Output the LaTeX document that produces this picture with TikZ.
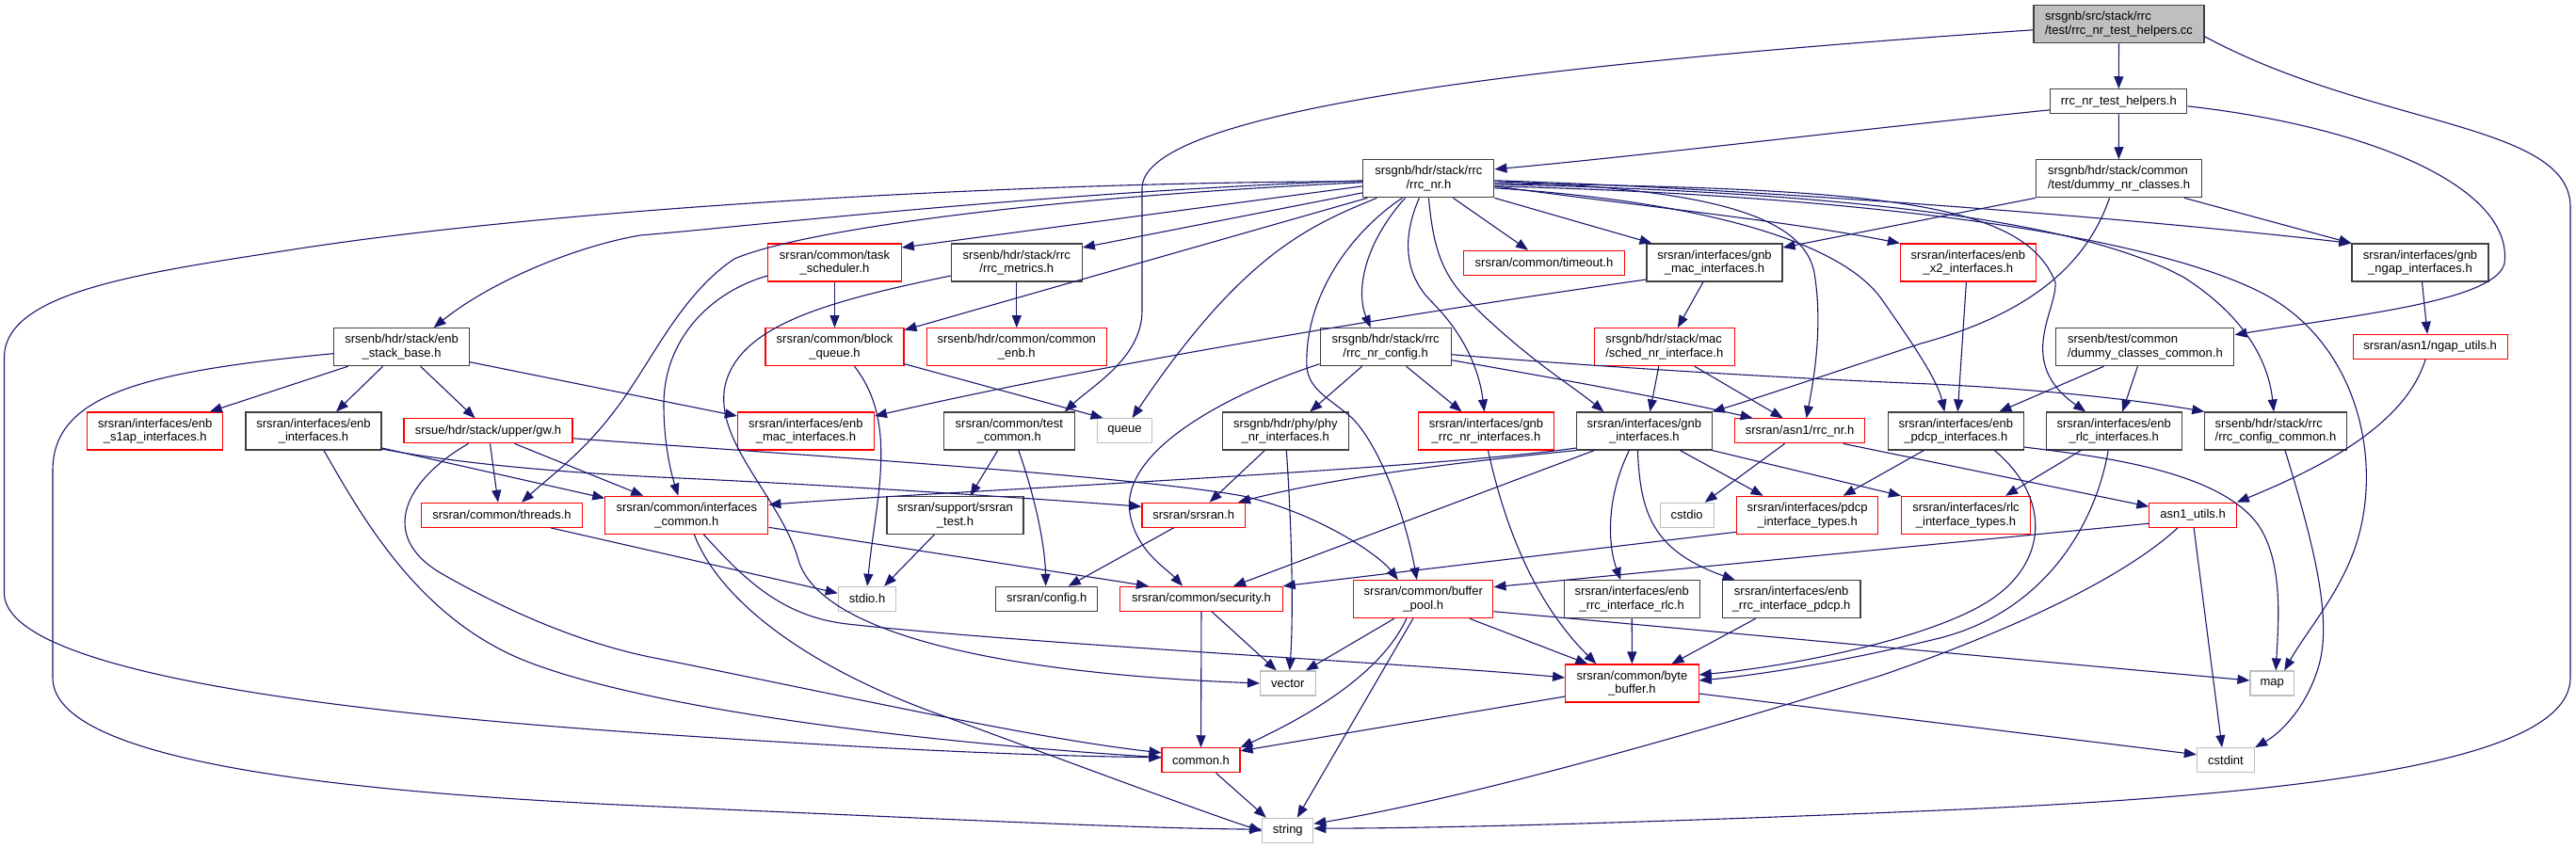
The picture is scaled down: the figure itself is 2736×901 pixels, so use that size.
\documentclass[tikz,border=0pt]{standalone}
\usepackage{fontspec}
\setmainfont{Liberation Sans}
\usetikzlibrary{arrows.meta}
\definecolor{edgec}{HTML}{191970}
\definecolor{redb}{HTML}{FF0000}
\definecolor{blkb}{HTML}{404040}
\definecolor{sysb}{HTML}{BFBFBF}
\definecolor{rootf}{HTML}{BFBFBF}
\newcommand\dxfont{\fontsize{13pt}{14.7pt}\selectfont}
\begin{document}
\begin{tikzpicture}[x=1pt,y=-1pt,
  nd/.style={rectangle, inner sep=0pt, align=center, font=\dxfont, minimum height=40pt, line width=1.1pt, text=black, fill=white},
  blk/.style={nd, draw=blkb},
  trunc/.style={nd, draw=redb},
  sys/.style={nd, draw=sysb, minimum height=26pt},
  rootn/.style={nd, draw=blkb, fill=rootf},
  one/.style={minimum height=26pt},
  wd/.style={minimum width=#1pt},
  lft/.style={align=left},
  edg/.style={draw=edgec, line width=1.1pt, -{Triangle[length=13pt,width=10pt]}},
]
\fill[white] (0,0) rectangle (2736,901);
\useasboundingbox (0,0) rectangle (2736,901);

% ---- nodes ----
\node[rootn, wd=181, lft] (root) at (2250.5,25.8) {srsgnb/src/stack/rrc\\/test/rrc\_nr\_test\_helpers.cc};
\node[blk, wd=145, one] (helpers) at (2250.3,107.8) {rrc\_nr\_test\_helpers.h};
\node[blk, wd=176, lft] (dummynr) at (2250.5,189.8) {srsgnb/hdr/stack/common\\/test/dummy\_nr\_classes.h};
\node[blk, wd=139] (rrcnr) at (1517.4,189.8) {srsgnb/hdr/stack/rrc\\/rrc\_nr.h};
\node[blk, wd=145] (ngapif) at (2570.5,279) {srsran/interfaces/gnb\\\_ngap\_interfaces.h};
\node[trunc, wd=144] (x2if) at (2090.4,279) {srsran/interfaces/enb\\\_x2\_interfaces.h};
\node[trunc, wd=171, one] (timeout) at (1640,279.3) {srsran/common/timeout.h};
\node[blk, wd=144] (gnbmac) at (1821,279) {srsran/interfaces/gnb\\\_mac\_interfaces.h};
\node[trunc, wd=141.5] (tasksched) at (886.5,279) {srsran/common/task\\\_scheduler.h};
\node[blk, wd=139] (rrcmetrics) at (1079.8,279) {srsenb/hdr/stack/rrc\\/rrc\_metrics.h};
\node[blk, wd=144] (enbstack) at (426.6,368.7) {srsenb/hdr/stack/enb\\\_stack\_base.h};
\node[trunc, wd=144] (s1ap) at (164.7,458) {srsran/interfaces/enb\\\_s1ap\_interfaces.h};
\node[blk, wd=144] (enbif) at (333,458) {srsran/interfaces/enb\\\_interfaces.h};
\node[trunc, wd=179, one] (gw) at (518.5,457.8) {srsue/hdr/stack/upper/gw.h};
\node[trunc, wd=170.5, one] (threads) at (533,547.3) {srsran/common/threads.h};
\node[trunc, wd=173] (ifcommon) at (729.3,547.3) {srsran/common/interfaces\\\_common.h};
\node[trunc, wd=147] (blockq) at (886.5,368.7) {srsran/common/block\\\_queue.h};
\node[trunc, wd=191.5] (commonenb) at (1079.8,368.7) {srsenb/hdr/common/common\\\_enb.h};
\node[trunc, wd=145] (enbmac) at (855.9,458) {srsran/interfaces/enb\\\_mac\_interfaces.h};
\node[blk, wd=139] (testcommon) at (1071.8,458) {srsran/common/test\\\_common.h};
\node[sys, wd=57.6] (queue) at (1194.5,457.7) {queue};
\node[blk, wd=145] (srsrantest) at (1014.5,547.3) {srsran/support/srsran\\\_test.h};
\node[trunc, wd=109.4, one] (srsranh) at (1267.7,547.2) {srsran/srsran.h};
\node[blk, wd=134] (phyif) at (1365.3,458) {srsgnb/hdr/phy/phy\\\_nr\_interfaces.h};
\node[blk, wd=139] (rrcnrcfg) at (1471.6,368.7) {srsgnb/hdr/stack/rrc\\/rrc\_nr\_config.h};
\node[trunc, wd=148.6, lft] (schednr) at (1767.8,368.7) {srsgnb/hdr/stack/mac\\/sched\_nr\_interface.h};
\node[trunc, wd=144] (gnbrrcnr) at (1578.5,458) {srsran/interfaces/gnb\\\_rrc\_nr\_interfaces.h};
\node[blk, wd=143.3] (gnbif) at (1746.4,458) {srsran/interfaces/gnb\\\_interfaces.h};
\node[trunc, wd=138, one] (asn1rrcnr) at (1911.6,457.8) {srsran/asn1/rrc\_nr.h};
\node[blk, wd=143.5] (enbpdcp) at (2077.3,458) {srsran/interfaces/enb\\\_pdcp\_interfaces.h};
\node[sys, wd=57] (cstdio) at (1791.7,547.3) {cstdio};
\node[trunc, wd=150.4] (pdcptypes) at (1919.6,547.3) {srsran/interfaces/pdcp\\\_interface\_types.h};
\node[trunc, wd=137] (rlctypes) at (2088,547.3) {srsran/interfaces/rlc\\\_interface\_types.h};
\node[blk, wd=189, lft] (dummycommon) at (2278.4,368.7) {srsenb/test/common\\/dummy\_classes\_common.h};
\node[trunc, wd=164, one] (ngaputils) at (2581.1,368.3) {srsran/asn1/ngap\_utils.h};
\node[blk, wd=144] (enbrlc) at (2245.2,458) {srsran/interfaces/enb\\\_rlc\_interfaces.h};
\node[blk, wd=150.4, lft] (rrccfgcommon) at (2417,458) {srsenb/hdr/stack/rrc\\/rrc\_config\_common.h};
\node[trunc, wd=92.4, one] (asn1utils) at (2329.1,547.2) {asn1\_utils.h};
\node[sys, wd=61.6] (stdio) at (921.1,636.3) {stdio.h};
\node[blk, wd=108, one] (config) at (1111.7,636.3) {srsran/config.h};
\node[trunc, wd=172.3, one] (security) at (1276,636.3) {srsran/common/security.h};
\node[sys, wd=58.5] (vector) at (1367.8,726) {vector};
\node[trunc, wd=83, one] (commonh) at (1275.5,807.8) {common.h};
\node[sys, wd=54] (string) at (1367.8,882.2) {string};
\node[trunc, wd=148.2] (bufpool) at (1511.8,636.7) {srsran/common/buffer\\\_pool.h};
\node[blk, wd=143.7] (rrcifrlc) at (1733.2,636.7) {srsran/interfaces/enb\\\_rrc\_interface\_rlc.h};
\node[blk, wd=146.8] (rrcifpdcp) at (1902.6,636.7) {srsran/interfaces/enb\\\_rrc\_interface\_pdcp.h};
\node[trunc, wd=141.5] (bytebuf) at (1733.4,726) {srsran/common/byte\\\_buffer.h};
\node[sys, wd=46.4] (map) at (2413.2,726) {map};
\node[sys, wd=61.2] (cstdint) at (2364,807.7) {cstdint};

% ---- edges ----
% root
\draw[edg] (root) -- (helpers);
\draw[edg] ([yshift=-6pt]root.west) .. controls (1600,70) and (1213,120) .. (1213,200) -- (1213,330) .. controls (1213,380) and (1160,410) .. ([xshift=59pt]testcommon.north);
\draw[edg] ([yshift=-13pt]root.east) .. controls (2520,135) and (2730,130) .. (2730,220) -- (2730,720) .. controls (2730,810) and (2450,845) .. (2036,862) .. controls (1800,872) and (1550,880) .. ([yshift=2pt]string.east);
% helpers
\draw[edg] ([yshift=-9pt]helpers.west) .. controls (1950,140) and (1750,165) .. ([yshift=10pt]rrcnr.east);
\draw[edg] (helpers) -- (dummynr);
\draw[edg] ([yshift=-5pt]helpers.east) .. controls (2520,135) and (2670,200) .. (2660,280) .. controls (2650,320) and (2500,335) .. ([yshift=13pt]dummycommon.east);
% dummynr
\draw[edg] (dummynr.south west) -- ([yshift=16pt]gnbmac.east);
\draw[edg] ([xshift=-19pt]dummynr.south east) -- (ngapif.north west);
\draw[edg] ([xshift=-10pt]dummynr.south) .. controls (2220,270) and (2170,330) .. (2040,365) .. controls (1950,395) and (1860,425) .. (gnbif.north east);
% rrcnr
\draw[edg] ([yshift=-3pt]rrcnr.west) .. controls (1100,193) and (600,220) .. (312,265) .. controls (150,290) and (4.5,310) .. (4.5,380) -- (4.5,630) .. controls (4.5,700) and (250,750) .. (700,780) .. controls (950,797) and (1100,803) .. ([yshift=3pt]commonh.west);
\draw[edg] ([yshift=-2pt]rrcnr.west) .. controls (1100,205) and (800,240) .. (680,250) .. controls (610,262) and (520,300) .. ([xshift=34pt]enbstack.north);
\draw[edg] ([yshift=-8pt]rrcnr.west) -- ([yshift=16pt]tasksched.east);
\draw[edg] ([yshift=-15pt]rrcnr.west) -- ([yshift=16pt]rrcmetrics.east);
\draw[edg] ([yshift=-4pt]rrcnr.west) .. controls (1100,210) and (850,245) .. (780,275) .. controls (720,315) and (690,390) .. (650,440) .. controls (620,480) and (580,510) .. ([xshift=21pt]threads.north);
\draw[edg] ([xshift=5pt]rrcnr.south west) -- ([yshift=18pt]blockq.east);
\draw[edg] ([xshift=15pt]rrcnr.south west) .. controls (1390,240) and (1320,270) .. ([xshift=8pt]queue.north);
\draw[edg] ([xshift=26pt]rrcnr.south) -- ([xshift=-17pt]timeout.north);
\draw[edg] (rrcnr.south east) -- ([xshift=6pt]gnbmac.north west);
\draw[edg] ([yshift=-8pt]rrcnr.east) .. controls (1750,220) and (1900,235) .. (x2if.north west);
\draw[edg] ([xshift=-25pt]rrcnr.south) .. controls (1448,260) and (1440,310) .. ([xshift=-16pt]rrcnrcfg.north);
\draw[edg] ([xshift=-28pt]rrcnr.south) .. controls (1430,250) and (1385,320) .. (1388,390) .. controls (1390,415) and (1415,425) .. (1437,445) .. controls (1470,480) and (1495,560) .. ([xshift=-7pt]bufpool.north);
\draw[edg] ([xshift=-10pt]rrcnr.south) .. controls (1490,250) and (1490,290) .. (1520,320) .. controls (1560,360) and (1572,400) .. ([xshift=-2pt]gnbrrcnr.north);
\draw[edg] (rrcnr.south) .. controls (1522,260) and (1530,290) .. (1560,320) .. controls (1620,380) and (1670,410) .. ([xshift=-43pt]gnbif.north);
\draw[edg] ([yshift=-3pt]rrcnr.east) .. controls (1800,200) and (1915,225) .. (1927,290) .. controls (1937,350) and (1925,410) .. ([xshift=7pt]asn1rrcnr.north);
\draw[edg] ([yshift=-10pt]rrcnr.east) .. controls (1820,215) and (1960,260) .. (2000,320) .. controls (2035,370) and (2058,405) .. ([xshift=-12pt]enbpdcp.north);
\draw[edg] ([yshift=-5pt]rrcnr.east) .. controls (2000,200) and (2150,215) .. (2183,300) .. controls (2185,330) and (2140,385) .. ([xshift=-30pt]enbrlc.north);
\draw[edg] ([yshift=-6pt]rrcnr.east) .. controls (2000,205) and (2220,240) .. (2320,295) .. controls (2390,340) and (2410,390) .. ([xshift=-2pt]rrccfgcommon.north);
\draw[edg] ([yshift=-8pt]rrcnr.east) .. controls (2050,210) and (2300,260) .. (2400,310) .. controls (2500,360) and (2530,480) .. (2505,570) .. controls (2490,625) and (2450,670) .. ([xshift=13pt]map.north);
\draw[edg] ([yshift=-2pt]rrcnr.east) .. controls (1850,200) and (2250,230) .. (ngapif.north west);
% gnbmac, schednr, x2
\draw[edg] ([yshift=-18pt]gnbmac.west) .. controls (1550,325) and (1200,380) .. ([yshift=16pt]enbmac.east);
\draw[edg] ([xshift=-12pt]gnbmac.south) -- ([xshift=14pt]schednr.north);
\draw[edg] ([xshift=-6pt]schednr.south) -- ([xshift=6pt]gnbif.north);
\draw[edg] ([xshift=32pt]schednr.south) -- ([xshift=-18pt]asn1rrcnr.north);
\draw[edg] ([xshift=-2pt]x2if.south) -- ([xshift=2pt]enbpdcp.north);
% tasksched, rrcmetrics
\draw[edg] (tasksched) -- (blockq);
\draw[edg] ([yshift=-14pt]tasksched.west) .. controls (755,310) and (705,360) .. (705,430) .. controls (705,470) and (712,500) .. ([xshift=-9pt]ifcommon.north);
\draw[edg] (rrcmetrics) -- (commonenb);
\draw[edg] ([yshift=-14pt]rrcmetrics.west) .. controls (880,320) and (785,345) .. (770,410) .. controls (758,470) and (830,530) .. (848,595) .. controls (870,670) and (1050,715) .. (vector.west);
% enbstack
\draw[edg] ([xshift=-57pt]enbstack.south) -- ([xshift=58pt]s1ap.north);
\draw[edg] ([xshift=-20pt]enbstack.south) -- ([xshift=24pt]enbif.north);
\draw[edg] ([xshift=20pt]enbstack.south) -- ([xshift=-14pt]gw.north);
\draw[edg] ([yshift=-16pt]enbstack.east) -- ([yshift=16pt]enbmac.west);
\draw[edg] ([yshift=-7pt]enbstack.west) .. controls (150,395) and (56,420) .. (56,500) -- (56,720) .. controls (56,800) and (300,840) .. (700,857) .. controls (1000,870) and (1200,880) .. ([yshift=1pt]string.west);
% enbif
\draw[edg] ([yshift=-18pt]enbif.east) -- ([yshift=18pt]ifcommon.west);
\draw[edg] ([yshift=-19pt]enbif.east) .. controls (500,495) and (620,503) .. (700,507) .. controls (900,516) and (1100,530) .. ([yshift=9pt]srsranh.west);
\draw[edg] ([xshift=11pt]enbif.south) .. controls (390,560) and (450,660) .. (560,703) .. controls (700,757) and (1000,790) .. ([yshift=3pt]commonh.west);
% gw
\draw[edg] ([xshift=2pt]gw.south) -- ([xshift=-4pt]threads.north);
\draw[edg] ([xshift=28pt]gw.south) -- ([xshift=-46pt]ifcommon.north);
\draw[edg] ([xshift=-21pt]gw.south) .. controls (430,510) and (400,570) .. (470,610) .. controls (540,650) and (620,685) .. (700,700) .. controls (900,740) and (1100,785) .. ([yshift=8pt]commonh.west);
\draw[edg] ([yshift=-8pt]gw.east) .. controls (800,480) and (1200,505) .. (1320,527) .. controls (1400,545) and (1465,590) .. ([xshift=-27pt]bufpool.north);
% threads, ifcommon
\draw[edg] ([xshift=52pt]threads.south) -- ([yshift=6pt]stdio.west);
\draw[edg] ([yshift=-13pt]ifcommon.east) -- ([xshift=-56pt]security.north);
\draw[edg] ([xshift=8pt]ifcommon.south) .. controls (765,640) and (860,710) .. (1000,760) .. controls (1150,815) and (1270,860) .. ([yshift=-1pt]string.west);
\draw[edg] ([xshift=18pt]ifcommon.south) .. controls (790,615) and (830,655) .. (900,663) .. controls (1100,685) and (1500,705) .. ([yshift=6pt]bytebuf.west);
% blockq, testcommon, srsrantest, srsranh
\draw[edg] ([yshift=-18pt]blockq.east) -- ([xshift=-23pt]queue.north);
\draw[edg] ([xshift=21pt]blockq.south) .. controls (955,450) and (930,530) .. (stdio.north);
\draw[edg] ([xshift=-12pt]testcommon.south) -- ([xshift=16pt]srsrantest.north);
\draw[edg] ([xshift=10pt]testcommon.south) .. controls (1100,530) and (1110,580) .. ([xshift=-1pt]config.north);
\draw[edg] ([xshift=-22pt]srsrantest.south) -- ([xshift=18pt]stdio.north);
\draw[edg] ([xshift=-21pt]srsranh.south) -- ([xshift=23pt]config.north);
% phyif, rrcnrcfg
\draw[edg] ([xshift=-22pt]phyif.south) -- ([xshift=17pt]srsranh.north);
\draw[edg] ([xshift=1pt]phyif.south) .. controls (1372,560) and (1374,650) .. ([xshift=2pt]vector.north);
\draw[edg] ([xshift=-25pt]rrcnrcfg.south) -- ([xshift=26pt]phyif.north);
\draw[edg] ([xshift=22pt]rrcnrcfg.south) -- ([xshift=-26pt]gnbrrcnr.north);
\draw[edg] ([yshift=-14pt]rrcnrcfg.east) .. controls (1700,410) and (1800,430) .. ([xshift=-50pt]asn1rrcnr.north);
\draw[edg] ([yshift=-8pt]rrcnrcfg.east) .. controls (1700,390) and (1900,402) .. (2050,408) .. controls (2200,415) and (2300,430) .. (rrccfgcommon.north west);
\draw[edg] ([yshift=-18pt]rrcnrcfg.west) .. controls (1300,420) and (1190,480) .. (1200,545) .. controls (1206,585) and (1240,605) .. ([xshift=-20pt]security.north);
% gnbrrcnr, gnbif
\draw[edg] ([xshift=2pt]gnbrrcnr.south) .. controls (1605,590) and (1645,655) .. ([xshift=-38pt]bytebuf.north);
\draw[edg] ([yshift=-18pt]gnbif.west) .. controls (1500,500) and (1000,522) .. ([yshift=11pt]ifcommon.east);
\draw[edg] (gnbif.south west) .. controls (1500,496) and (1400,512) .. ([xshift=-8pt]srsranh.north east);
\draw[edg] ([xshift=-53pt]gnbif.south) -- ([xshift=34pt]security.north);
\draw[edg] ([xshift=38pt]gnbif.south) -- ([xshift=-47pt]pdcptypes.north);
\draw[edg] (gnbif.south east) -- (rlctypes.north west);
\draw[edg] ([xshift=-16pt]gnbif.south) .. controls (1705,530) and (1708,580) .. ([xshift=-12pt]rrcifrlc.north);
\draw[edg] ([xshift=-7pt]gnbif.south) .. controls (1742,545) and (1755,585) .. ([xshift=-60pt]rrcifpdcp.north);
% asn1rrcnr, enbpdcp, enbrlc
\draw[edg] ([xshift=-16pt]asn1rrcnr.south) -- ([xshift=19pt]cstdio.north);
\draw[edg] ([xshift=46pt]asn1rrcnr.south) -- ([yshift=9pt]asn1utils.west);
\draw[edg] ([xshift=-34pt]enbpdcp.south) -- ([xshift=38pt]pdcptypes.north);
\draw[edg] ([xshift=41pt]enbpdcp.south) .. controls (2180,530) and (2175,600) .. (2110,640) .. controls (2045,680) and (1900,708) .. ([yshift=9pt]bytebuf.east);
\draw[edg] ([yshift=-17pt]enbpdcp.east) .. controls (2230,485) and (2360,500) .. (2400,560) .. controls (2425,600) and (2420,660) .. ([xshift=4pt]map.north);
\draw[edg] ([xshift=-35pt]enbrlc.south) -- ([xshift=42pt]rlctypes.north);
\draw[edg] ([xshift=-6pt]enbrlc.south) .. controls (2225,560) and (2170,650) .. (2060,678) .. controls (1950,705) and (1860,718) .. ([yshift=3pt]bytebuf.east);
% rrccfgcommon, ngap
\draw[edg] ([xshift=10pt]rrccfgcommon.south) .. controls (2458,580) and (2478,660) .. (2462,710) .. controls (2448,755) and (2420,780) .. (cstdint.north east);
\draw[edg] ([xshift=2pt]ngapif.south) -- ([xshift=-3pt]ngaputils.north);
\draw[edg] ([xshift=-5pt]ngaputils.south) .. controls (2555,450) and (2470,495) .. (asn1utils.north east);
% dummycommon
\draw[edg] ([xshift=-44pt]dummycommon.south) -- ([xshift=46pt]enbpdcp.north);
\draw[edg] ([xshift=-8pt]dummycommon.south) -- ([xshift=9pt]enbrlc.north);
% pdcptypes, asn1utils
\draw[edg] ([yshift=-18pt]pdcptypes.west) -- (security.north east);
\draw[edg] ([yshift=-9pt]asn1utils.west) -- ([yshift=13pt]bufpool.east);
\draw[edg] ([xshift=1pt]asn1utils.south) -- ([xshift=-4pt]cstdint.north);
\draw[edg] ([xshift=-16pt]asn1utils.south) .. controls (2260,610) and (2150,665) .. (2000,717) .. controls (1800,780) and (1550,850) .. ([yshift=7pt]string.east);
% security, bufpool, bytebuf
\draw[edg] (security) -- (commonh);
\draw[edg] ([xshift=11pt]security.south) -- ([xshift=-12pt]vector.north);
\draw[edg] ([xshift=-31pt]bufpool.south) -- ([xshift=19pt]vector.north);
\draw[edg] ([xshift=-18pt]bufpool.south) .. controls (1465,720) and (1380,765) .. (commonh.north east);
\draw[edg] ([xshift=-11pt]bufpool.south) -- ([xshift=10pt]string.north);
\draw[edg] ([xshift=49pt]bufpool.south) -- ([xshift=-47pt]bytebuf.north);
\draw[edg] ([yshift=-13pt]bufpool.east) -- ([yshift=3pt]map.west);
\draw[edg] ([yshift=-14pt]bytebuf.west) -- ([yshift=10pt]commonh.east);
\draw[edg] ([yshift=-11pt]bytebuf.east) -- ([yshift=6pt]cstdint.west);
\draw[edg] (rrcifrlc) -- (bytebuf);
\draw[edg] ([xshift=-38pt]rrcifpdcp.south) -- ([xshift=42pt]bytebuf.north);
\draw[edg] ([xshift=16pt]commonh.south) -- ([xshift=-23pt]string.north);
\end{tikzpicture}
\end{document}
